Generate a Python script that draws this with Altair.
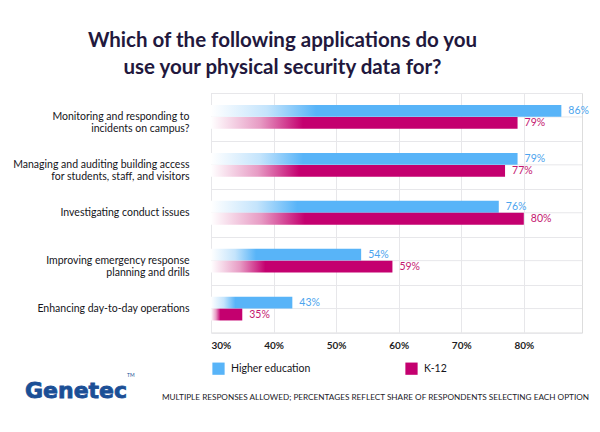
import altair as alt
import pandas as pd

# ---- data ----
categories = [
    "Monitoring and responding to|incidents on campus?",
    "Managing and auditing building access|for students, staff, and visitors",
    "Investigating conduct issues",
    "Improving emergency response|planning and drills",
    "Enhancing day-to-day operations",
]
higher_ed = [86, 79, 76, 54, 43]
k12 = [79, 77, 80, 59, 35]
series = ["Higher education", "K-12"]
x_ticks = [30, 40, 50, 60, 70, 80]
axis_min = 30

title_lines = ["Which of the following applications do you", "use your physical security data for?"]
footnote = ["MULTIPLE RESPONSES ALLOWED; PERCENTAGES REFLECT SHARE OF RESPONDENTS SELECTING EACH OPTION"]
logo = ["Genetec"]
tm = ["TM"]

# ---- styles ----
BLUE = "#58b4f8"
PINK = "#c4006f"
BLUE_TXT = "#4ba4ee"
PINK_TXT = "#c4176f"
GRID = "#e7e7ea"
FONT = "Lato"
LOGO = "#1b4f96"

rows = []
for c, h, k in zip(categories, higher_ed, k12):
    rows.append({"category": c, "series": series[0], "value": h, "label": f"{h}%"})
    rows.append({"category": c, "series": series[1], "value": k, "label": f"{k}%"})
df = pd.DataFrame(rows)
cat_df = pd.DataFrame({"category": categories})


def grad(col, light):
    return alt.LinearGradient(
        gradient="linear", x1=0, x2=1, y1=0, y2=0,
        stops=[
            alt.GradientStop(offset=0, color="#ffffff"),
            alt.GradientStop(offset=0.16, color=light),
            alt.GradientStop(offset=0.3, color=col),
            alt.GradientStop(offset=1, color=col),
        ],
    )


y_enc = alt.Y(
    "category:N", sort=categories, title=None,
    scale=alt.Scale(paddingInner=0, paddingOuter=0),
    axis=alt.Axis(
        labelExpr="split(datum.label, '|')", tickBand="extent", grid=True,
        gridColor=GRID, ticks=False, domain=False, labelPadding=22,
        labelFontSize=10.5, labelLineHeight=11.5, labelColor="#15151a",
        labelFont=FONT, labelLimit=300,
    ),
)
x_enc = alt.X(
    "value:Q", title=None,
    scale=alt.Scale(domain=[30, 89.3], nice=False, zero=False),
    axis=alt.Axis(
        values=x_ticks, labelExpr="datum.value + '%'", ticks=False, domain=False,
        grid=True, gridColor=GRID, labelPadding=8, labelFontSize=10,
        labelFont=FONT, labelColor="#1e1e24", labelFontWeight="bold",
    ),
)
yoff = alt.YOffset(
    "series:N", sort=series,
    scale=alt.Scale(domain=series, paddingInner=0.02, paddingOuter=1.0),
)

is_he = "datum.series == 'Higher education'"

midlines = alt.Chart(cat_df).mark_rule(color=GRID, strokeWidth=1).encode(
    y=alt.Y("category:N", sort=categories, bandPosition=0.5)
)

bars = alt.Chart(df).mark_bar(strokeWidth=0).encode(
    x=x_enc, x2=alt.datum(axis_min), y=y_enc, yOffset=yoff,
    fill=alt.condition(is_he, alt.value(grad(BLUE, "#c4e4fc")), alt.value(grad(PINK, "#e79bc4"))),
)

labels = alt.Chart(df).mark_text(
    align="left", baseline="middle", dx=7, fontSize=10.5, font=FONT
).encode(
    x="value:Q", y=alt.Y("category:N", sort=categories), yOffset=yoff,
    text="label:N",
    color=alt.condition(is_he, alt.value(BLUE_TXT), alt.value(PINK_TXT)),
)

legend_layer = alt.Chart(df).mark_point(shape="square", filled=True, size=0, opacity=0).encode(
    x="value:Q", y=alt.Y("category:N", sort=categories),
    color=alt.Color(
        "series:N", sort=series,
        scale=alt.Scale(domain=series, range=[BLUE, PINK]),
        legend=alt.Legend(
            title=None, orient="none", legendX=1, legendY=269, direction="horizontal",
            symbolType="square", symbolSize=150, symbolOpacity=1, symbolStrokeWidth=0,
            labelFontSize=10.5, labelFont=FONT, labelColor="#15151a", labelOffset=6,
            columnPadding=94,
        ),
    ),
)

logo_layer = alt.Chart(pd.DataFrame({"t": logo})).mark_text(
    align="left", baseline="alphabetic", font="DejaVu Sans", fontWeight="bold",
    fontSize=22, color=LOGO, stroke=LOGO, strokeWidth=0.8,
).encode(x=alt.value(-186), y=alt.value(305), text="t:N")

tm_layer = alt.Chart(pd.DataFrame({"t": tm})).mark_text(
    align="left", baseline="alphabetic", font=FONT, fontSize=5, color=LOGO,
).encode(x=alt.value(-84), y=alt.value(284), text="t:N")

foot_layer = alt.Chart(pd.DataFrame({"t": footnote})).mark_text(
    align="left", baseline="alphabetic", font=FONT, fontSize=8.2, color="#222228",
).encode(x=alt.value(-49), y=alt.value(307), text="t:N")

chart = alt.layer(
    midlines, bars, labels, legend_layer, logo_layer, tm_layer, foot_layer
).properties(
    width=371, height=239.5,
    autosize=alt.AutoSizeParams(type="none"),
    padding={"left": 203, "top": 85, "right": 10, "bottom": 92},
    title=alt.TitleParams(
        text=title_lines, fontSize=20.5, font=FONT, fontWeight="bold", color="#22183d",
        anchor="middle", dx=-114, lineHeight=27, offset=10,
    ),
).configure_view(stroke=GRID, strokeWidth=1).configure(background="white")

chart.save("out.html", embed_options={"renderer": "svg", "actions": False})
